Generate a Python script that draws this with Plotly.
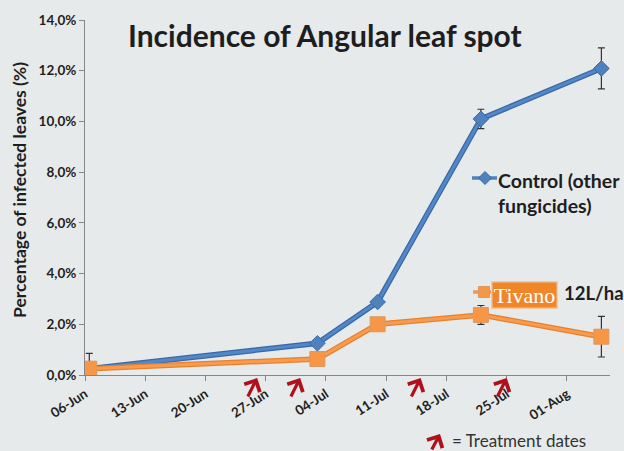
import plotly.graph_objects as go

# Sampling dates and incidence (% of infected leaves)
dates = ["2011-06-06 12:00", "2011-07-03", "2011-07-10", "2011-07-22", "2011-08-05"]
control = [0.25, 1.25, 2.88, 10.1, 12.09]
control_err = [0.6, 0.0, 0.0, 0.38, 0.81]
tivano = [0.25, 0.63, 2.0, 2.37, 1.51]
tivano_err = [0.0, 0.0, 0.0, 0.37, 0.8]

# Fungicide application dates
treatments = ["2011-06-26", "2011-07-01", "2011-07-15", "2011-07-25"]

y_ticks = [0, 2, 4, 6, 8, 10, 12, 14]
y_tick_labels = ["0,0%", "2,0%", "4,0%", "6,0%", "8,0%", "10,0%", "12,0%", "14,0%"]

W, H = 624, 451
PL, PR, PT, PB = 85, 610, 20, 375  # plot area in pixels
BG = "#E7EAEB"
FONT = "Lato"
INK = "#1E1E1E"


def fx(x):
    return (x - PL) / (PR - PL)


def fy(y):
    return (PB - y) / (PB - PT)


fig = go.Figure()

# Control series: darker outline underneath, then the main line with markers
fig.add_trace(go.Scatter(
    x=dates, y=control, mode="lines",
    line=dict(color="#3A68A6", width=5.5), hoverinfo="skip", showlegend=False))
fig.add_trace(go.Scatter(
    x=dates, y=control, mode="lines+markers", name="Control (other fungicides)",
    line=dict(color="#5287C8", width=3),
    marker=dict(symbol="diamond", size=12, color="#4F81BD",
                line=dict(color="#3A6AA5", width=1)),
    error_y=dict(type="data", array=control_err, color="#333333",
                 thickness=1.2, width=3.5),
    showlegend=False))

# Tivano series
fig.add_trace(go.Scatter(
    x=dates, y=tivano, mode="lines",
    line=dict(color="#E7812C", width=5.5), hoverinfo="skip", showlegend=False))
fig.add_trace(go.Scatter(
    x=dates, y=tivano, mode="lines+markers", name="Tivano 12L/ha",
    line=dict(color="#F99B4F", width=3),
    marker=dict(symbol="square", size=15, color="#F79646",
                line=dict(color="#D99A62", width=1)),
    error_y=dict(type="data", array=tivano_err, color="#333333",
                 thickness=1.2, width=3.5),
    showlegend=False))

# Legend keys drawn on a pixel-scaled overlay axis
fig.add_trace(go.Scatter(
    x=[472, 497], y=[178, 178], mode="lines", xaxis="x2", yaxis="y2",
    line=dict(color="#4F81BD", width=3.5), hoverinfo="skip", showlegend=False,
    cliponaxis=False))
fig.add_trace(go.Scatter(
    x=[485], y=[178], mode="markers", xaxis="x2", yaxis="y2",
    marker=dict(symbol="diamond", size=10, color="#4F81BD",
                line=dict(color="#3A6AA5", width=1)),
    hoverinfo="skip", showlegend=False, cliponaxis=False))
fig.add_trace(go.Scatter(
    x=[473, 493], y=[292, 292], mode="lines", xaxis="x2", yaxis="y2",
    line=dict(color="#F79646", width=3.5), hoverinfo="skip", showlegend=False,
    cliponaxis=False))
fig.add_trace(go.Scatter(
    x=[484], y=[292], mode="markers", xaxis="x2", yaxis="y2",
    marker=dict(symbol="square", size=11, color="#F79646",
                line=dict(color="#D99A62", width=1)),
    hoverinfo="skip", showlegend=False, cliponaxis=False))

annotations = []

# Title
annotations.append(dict(
    text="<b>Incidence of Angular leaf spot</b>", xref="paper", yref="paper",
    x=fx(325), y=fy(35), xanchor="center", yanchor="middle", showarrow=False,
    font=dict(family=FONT, size=30, color=INK)))

# Y-axis title
annotations.append(dict(
    text="<b>Percentage of infected leaves (%)</b>", xref="paper", yref="paper",
    x=fx(19), y=fy(190), xanchor="center", yanchor="middle", textangle=-90,
    showarrow=False, font=dict(family=FONT, size=17.5, color=INK)))

# Legend texts
annotations.append(dict(
    text="<b>Control (other<br>fungicides)</b>", xref="paper", yref="paper",
    x=fx(496), y=fy(167), xanchor="left", yanchor="top", align="left",
    showarrow=False, font=dict(family=FONT, size=19.5, color=INK)))
annotations.append(dict(
    text="Tivano", xref="paper", yref="paper",
    x=fx(524.5), y=fy(294.5), xanchor="center", yanchor="middle",
    showarrow=False, width=64, height=25, bgcolor="#F0862A",
    bordercolor="#F6C79C", borderwidth=1.5, borderpad=0,
    font=dict(family="Liberation Serif", size=22, color="#FFFFFF")))
annotations.append(dict(
    text="<b>12L/ha</b>", xref="paper", yref="paper",
    x=fx(562), y=fy(293), xanchor="left", yanchor="middle",
    showarrow=False, font=dict(family=FONT, size=18.5, color=INK)))

# Treatment arrows just below the date axis
for d in treatments:
    annotations.append(dict(
        x=d, xref="x", y=fy(378), yref="paper", text="", showarrow=True,
        ax=-10, ay=20, arrowhead=4, arrowsize=1.05, arrowwidth=3.2,
        arrowcolor="#B0101A", standoff=0))

# Arrow key
annotations.append(dict(
    x=fx(440), xref="paper", y=fy(434), yref="paper", text="", showarrow=True,
    ax=-9, ay=17, arrowhead=4, arrowsize=1.05, arrowwidth=3.2,
    arrowcolor="#B0101A", standoff=0))
annotations.append(dict(
    text="= Treatment dates", xref="paper", yref="paper",
    x=fx(450), y=fy(440), xanchor="left", yanchor="middle", showarrow=False,
    font=dict(family=FONT, size=17, color="#333333")))

fig.update_layout(
    width=W, height=H,
    margin=dict(l=PL, r=W - PR, t=PT, b=H - PB, pad=0),
    paper_bgcolor=BG, plot_bgcolor=BG,
    showlegend=False,
    annotations=annotations,
    xaxis=dict(
        type="date", range=["2011-06-06", "2011-08-06"],
        tick0="2011-06-06", dtick=7 * 24 * 3600 * 1000, tickformat="%d-%b",
        tickangle=-33, ticks="outside", ticklen=5, tickcolor="#868686",
        showline=True, linecolor="#868686", linewidth=1,
        showgrid=False, zeroline=False,
        tickfont=dict(family=FONT, size=13.5, color=INK, weight="bold"),
    ),
    yaxis=dict(
        range=[0, 14], tickvals=y_ticks, ticktext=y_tick_labels,
        ticks="outside", ticklen=5, tickcolor="#868686",
        showline=True, linecolor="#868686", linewidth=1,
        showgrid=False, zeroline=False,
        tickfont=dict(family=FONT, size=13.5, color=INK, weight="bold"),
    ),
    xaxis2=dict(range=[PL, PR], overlaying="x", visible=False),
    yaxis2=dict(range=[PB, PT], overlaying="y", visible=False),
)

fig.write_html("out.html")
